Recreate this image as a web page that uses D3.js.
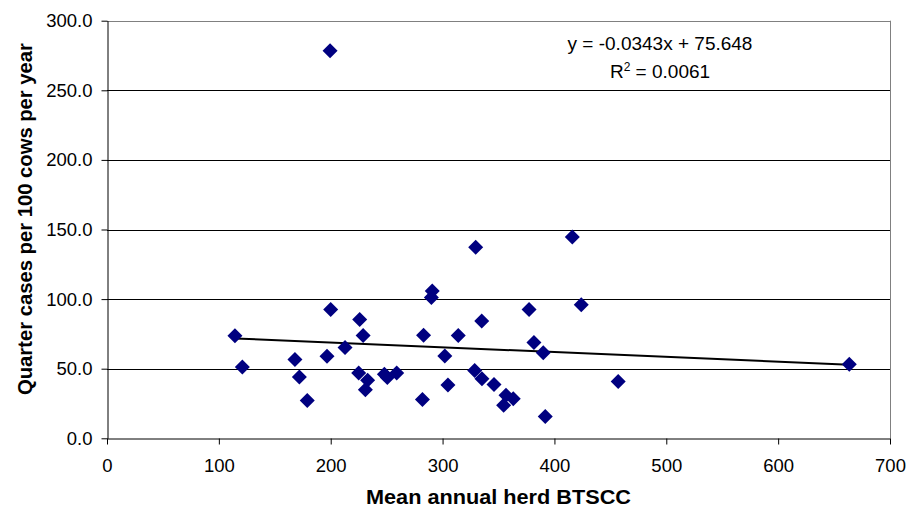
<!DOCTYPE html>
<html><head><meta charset="utf-8">
<script src="https://cdn.jsdelivr.net/npm/d3@7"></script>
<style>body{margin:0;background:#fff}svg{display:block;font-family:"Liberation Sans",Arial,sans-serif}</style>
</head><body><svg id="c" width="915" height="510"></svg>
<script>
const xValues = [114.4,121,168,172,179,200,196.7,212.8,225.9,229,225,233,231,248,250.6,259,282,283,290.8,290,302,304.8,314,329.6,328.7,335,335.2,346,356.7,354.6,363.2,377.3,381.7,390,391.8,416,424,457,663.6,199.4];
const yValues = [73.6,51.3,56.6,44.1,27.1,92.6,59,65.2,85.4,73.9,47,41.7,34.8,46,43.7,47,27.8,74.1,105.8,101.2,59.2,38.3,73.9,137.2,48.7,84.2,42.7,38.6,30.9,23.7,28.5,92.6,68.8,61.4,15.6,144.6,95.9,40.8,53.2,278.4];
const slope = -0.0343, intercept = 75.648;
const xTicks = [0,100,200,300,400,500,600,700];
const yTicks = [0,50,100,150,200,250,300];
const eqText = "y = -0.0343x + 75.648";
const r2Value = "0.0061";
const xTitle = "Mean annual herd BTSCC";
const yTitle = "Quarter cases per 100 cows per year";

const svg = d3.select("#c");
const L=107,R=890,T=20.7,B=438.3;
const x = d3.scaleLinear().domain([0,700]).range([L,R]);
const y = d3.scaleLinear().domain([0,300]).range([B,T]);

svg.append("g").selectAll("line").data(yTicks.filter(d=>d>0)).join("line")
  .attr("x1",L).attr("x2",R).attr("y1",d=>Math.round(y(d))+0.5).attr("y2",d=>Math.round(y(d))+0.5)
  .attr("stroke",d=>d===300?"#808080":"#000").attr("stroke-width",1);
svg.append("line").attr("x1",R+0.5).attr("x2",R+0.5).attr("y1",T).attr("y2",B).attr("stroke","#808080");

const xa = svg.append("g").attr("transform",`translate(0,${Math.round(B)+0.5})`)
  .call(d3.axisBottom(x).tickValues(xTicks).tickSize(6).tickSizeOuter(0).tickPadding(14).tickFormat(d3.format("d")));
const ya = svg.append("g").attr("transform",`translate(${L+0.5},0)`)
  .call(d3.axisLeft(y).tickValues(yTicks).tickSize(6).tickSizeOuter(0).tickPadding(9).tickFormat(d3.format(".1f")));
[xa,ya].forEach(a=>{a.select(".domain").attr("stroke","#000");a.selectAll(".tick line").attr("stroke","#000");
  a.selectAll("text").attr("font-size",18.5).attr("fill","#000").attr("font-family","Liberation Sans, Arial, sans-serif");});

const xmin=d3.min(xValues), xmax=d3.max(xValues);
svg.append("line").attr("x1",x(xmin)).attr("y1",y(slope*xmin+intercept))
  .attr("x2",x(xmax)).attr("y2",y(slope*xmax+intercept)).attr("stroke","#000").attr("stroke-width",2);

const pts = xValues.map((v,i)=>[v,yValues[i]]);
svg.append("g").selectAll("path").data(pts).join("path")
  .attr("transform",d=>`translate(${x(d[0])},${y(d[1])})`)
  .attr("d","M0,-7.5L7.5,0L0,7.5L-7.5,0Z").attr("fill","#000080");

svg.append("text").attr("x",660).attr("y",50).attr("text-anchor","middle").attr("font-size",19).text(eqText);
const r2 = svg.append("text").attr("x",660).attr("y",78).attr("text-anchor","middle").attr("font-size",19);
r2.append("tspan").text("R");
r2.append("tspan").attr("dy",-7).attr("font-size",12).text("2");
r2.append("tspan").attr("dy",7).text(" = "+r2Value);

svg.append("text").attr("x",(L+R)/2).attr("y",504).attr("text-anchor","middle").attr("font-size",20)
  .attr("font-weight","bold").attr("textLength",265).attr("lengthAdjust","spacingAndGlyphs").text(xTitle);
svg.append("text").attr("transform","translate(32,219) rotate(-90)").attr("text-anchor","middle").attr("font-size",20)
  .attr("font-weight","bold").attr("textLength",352).attr("lengthAdjust","spacingAndGlyphs").text(yTitle);
</script></body></html>
